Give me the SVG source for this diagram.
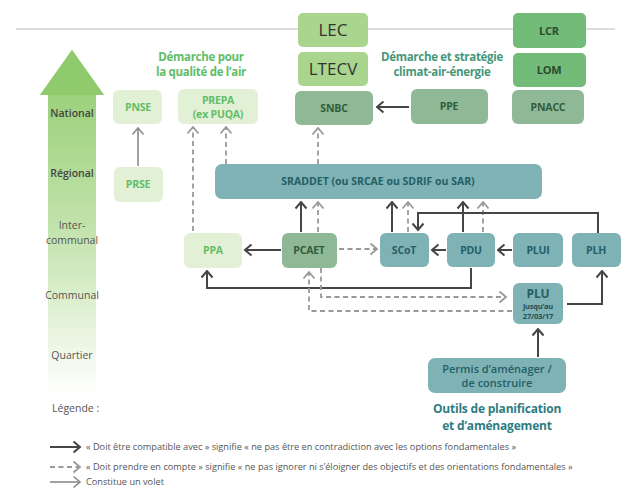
<svg xmlns="http://www.w3.org/2000/svg" width="625" height="489" viewBox="0 0 625 489">
<defs>
<linearGradient id="gArrow" x1="0" y1="0" x2="0" y2="1">
<stop offset="0" stop-color="#8fcb6c"/>
<stop offset="0.55" stop-color="#c6e4b0"/>
<stop offset="1" stop-color="#ffffff"/>
</linearGradient>
<marker id="mSolid" viewBox="0 0 10 14" refX="8.5" refY="7" markerWidth="10" markerHeight="14" markerUnits="userSpaceOnUse" orient="auto">
<path d="M2,1.5 L8.5,7 L2,12.5" fill="none" stroke="#454545" stroke-width="2"/>
</marker>
<marker id="mDash" viewBox="0 0 10 14" refX="8.5" refY="7" markerWidth="10" markerHeight="14" markerUnits="userSpaceOnUse" orient="auto">
<path d="M2,1.5 L8.5,7 L2,12.5" fill="none" stroke="#9a9a9a" stroke-width="1.8"/>
</marker>
<marker id="mGray" viewBox="0 0 10 14" refX="8.5" refY="7" markerWidth="10" markerHeight="14" markerUnits="userSpaceOnUse" orient="auto">
<path d="M2,1.5 L8.5,7 L2,12.5" fill="none" stroke="#8a8a8a" stroke-width="1.6"/>
</marker>
</defs>
<style>
text{font-family:"Open Sans","Noto Sans","Liberation Sans",sans-serif;}
.lvl{font-size:10.5px;fill:#444;text-anchor:middle;font-weight:600;}
.lvl2{font-size:10.5px;fill:#555;text-anchor:middle;}
.lbl{font-size:10.5px;font-weight:700;text-anchor:middle;letter-spacing:-0.2px;}
.lg{fill:#e2f0d6;}
.lgt{fill:#62bd67;}
.law{fill:#a9d58e;}
.lawt{font-size:17px;fill:#333;text-anchor:middle;}
.dg{fill:#72bb78;}
.dgt{fill:#2e4a30;}
.gg{fill:#8fb996;}
.ggt{fill:#2f5d3b;}
.tl{fill:#7fb2b4;}
.tlt{fill:#235f67;}
.head1{font-size:11.5px;font-weight:700;fill:#62bd67;text-anchor:middle;letter-spacing:-0.3px;}
.head2{font-size:11.5px;font-weight:700;fill:#46977a;text-anchor:middle;letter-spacing:-0.3px;}
.head3{font-size:12px;font-weight:700;fill:#2e7d83;text-anchor:middle;letter-spacing:-0.2px;}
.solid{fill:none;stroke:#454545;stroke-width:2;marker-end:url(#mSolid);}
.dash{fill:none;stroke:#9a9a9a;stroke-width:1.8;stroke-dasharray:5,3.5;marker-end:url(#mDash);}
.volet{fill:none;stroke:#8a8a8a;stroke-width:1.6;marker-end:url(#mGray);}
.legt{font-size:9.2px;fill:#555;}
</style>
<rect width="625" height="489" fill="#ffffff"/>
<line x1="16" y1="29" x2="615" y2="29" stroke="#bdbdbd" stroke-width="1"/>

<g id="scale">
<polygon points="72,50 104,95 96,95 96,395 48,395 48,95 40,95" fill="url(#gArrow)"/>
<polygon points="72,50 104,95 40,95" fill="#8fcb6c"/>
<text class="lvl" x="72" y="117">National</text>
<text class="lvl" x="72" y="177">Régional</text>
<text class="lvl2" x="72" y="229">Inter-</text>
<text class="lvl2" x="72" y="244">communal</text>
<text class="lvl2" x="72" y="299">Communal</text>
<text class="lvl2" x="72" y="359">Quartier</text>
<text class="lvl2" x="52" y="412" style="text-anchor:start">Légende :</text>
</g>

<g id="titles">
<text class="head1" x="201" y="61">Démarche pour</text>
<text class="head1" x="201" y="76">la qualité de l’air</text>
<text class="head2" x="442" y="61">Démarche et stratégie</text>
<text class="head2" x="442" y="76">climat-air-énergie</text>
<text class="head3" x="497" y="413">Outils de planification</text>
<text class="head3" x="497" y="430">et d’aménagement</text>
</g>

<g id="connectors">
<line class="volet" x1="138" y1="166" x2="138" y2="128"/>
<polyline class="dash" points="193,231 193,127"/>
<line class="dash" x1="226" y1="164" x2="226" y2="127"/>
<line class="dash" x1="318" y1="164" x2="318" y2="128"/>
<line class="solid" x1="409" y1="107" x2="377" y2="107"/>
<line class="solid" x1="301" y1="232" x2="301" y2="202"/>
<line class="dash" x1="318" y1="232" x2="318" y2="202"/>
<line class="solid" x1="392" y1="232" x2="392" y2="202"/>
<line class="dash" x1="408" y1="232" x2="408" y2="202"/>
<line class="solid" x1="463" y1="232" x2="463" y2="202"/>
<line class="dash" x1="483" y1="232" x2="483" y2="202"/>
<polyline class="solid" points="598,233 598,213 418,213 418,230"/>
<line class="solid" x1="281" y1="250" x2="245" y2="250"/>
<line class="dash" x1="339" y1="249" x2="377" y2="249"/>
<line class="solid" x1="446" y1="250" x2="432" y2="250"/>
<line class="solid" x1="512" y1="250" x2="498" y2="250"/>
<polyline class="solid" points="471,268 471,288 207,288 207,271"/>
<polyline class="dash" points="321,268 321,297 506,297"/>
<polyline class="dash" points="512,311 309,311 309,272"/>
<polyline class="solid" points="567,304 602,304 602,271"/>
<line class="solid" x1="538" y1="357" x2="538" y2="329"/>
</g>

<g id="PNSE"><rect class="lg" x="113" y="90" width="49" height="34" rx="6"/><text class="lbl lgt" x="138" y="111">PNSE</text></g>
<g id="PRSE"><rect class="lg" x="114" y="167" width="49" height="35" rx="6"/><text class="lbl lgt" x="138" y="188">PRSE</text></g>
<g id="PREPA"><rect class="lg" x="178" y="89" width="80" height="35" rx="6"/><text class="lbl lgt" x="218" y="104">PREPA</text><text class="lbl lgt" x="218" y="118">(ex PUQA)</text></g>
<g id="LEC"><rect class="law" x="298" y="13" width="70" height="34" rx="5"/><text class="lawt" x="333" y="36">LEC</text></g>
<g id="LTECV"><rect class="law" x="298" y="52" width="70" height="34" rx="5"/><text class="lawt" x="333" y="75">LTECV</text></g>
<g id="SNBC"><rect class="gg" x="295" y="91" width="78" height="34" rx="6"/><text class="lbl ggt" x="334" y="112">SNBC</text></g>
<g id="PPE"><rect class="gg" x="411" y="89" width="77" height="35" rx="6"/><text class="lbl ggt" x="449" y="110">PPE</text></g>
<g id="LCR"><rect class="dg" x="513" y="13" width="73" height="35" rx="5"/><text class="lbl dgt" x="549" y="35" style="font-size:11px">LCR</text></g>
<g id="LOM"><rect class="dg" x="513" y="53" width="73" height="34" rx="5"/><text class="lbl dgt" x="549" y="74" style="font-size:11px">LOM</text></g>
<g id="PNACC"><rect class="gg" x="512" y="90" width="72" height="34" rx="6"/><text class="lbl ggt" x="548" y="111">PNACC</text></g>
<g id="SRADDET"><rect class="tl" x="215" y="164" width="327" height="35" rx="7"/><text class="lbl tlt" x="378" y="185" style="letter-spacing:0">SRADDET (ou SRCAE ou SDRIF ou SAR)</text></g>
<g id="PPA"><rect class="lg" x="184" y="233" width="58" height="35" rx="6"/><text class="lbl lgt" x="213" y="254">PPA</text></g>
<g id="PCAET"><rect class="gg" x="282" y="233" width="55" height="35" rx="6"/><text class="lbl ggt" x="309" y="254">PCAET</text></g>
<g id="SCoT"><rect class="tl" x="380" y="233" width="49" height="34" rx="6"/><text class="lbl tlt" x="404" y="254">SCoT</text></g>
<g id="PDU"><rect class="tl" x="447" y="233" width="48" height="34" rx="6"/><text class="lbl tlt" x="471" y="254">PDU</text></g>
<g id="PLUI"><rect class="tl" x="513" y="233" width="50" height="34" rx="6"/><text class="lbl tlt" x="538" y="254">PLUI</text></g>
<g id="PLH"><rect class="tl" x="572" y="233" width="49" height="34" rx="6"/><text class="lbl tlt" x="596" y="254">PLH</text></g>
<g id="PLU"><rect class="tl" x="513" y="283" width="50" height="41" rx="6"/><text class="lbl tlt" x="538" y="298" style="font-size:12px">PLU</text><text class="lbl" x="538" y="309" style="font-size:7.5px;fill:#1f4f55">jusqu’au</text><text class="lbl" x="538" y="319" style="font-size:7.5px;fill:#1f4f55">27/03/17</text></g>
<g id="Permis"><rect class="tl" x="428" y="358" width="138" height="35" rx="7"/><text class="lbl tlt" x="497" y="373" style="font-weight:600;font-size:11px;letter-spacing:0">Permis d’aménager /</text><text class="lbl tlt" x="497" y="387" style="font-weight:600;font-size:11px;letter-spacing:0">de construire</text></g>

<g id="legend">
<line class="solid" x1="50" y1="447" x2="80" y2="447"/>
<text class="legt" x="86" y="450">« Doit être compatible avec » signifie « ne pas être en contradiction avec les options fondamentales »</text>
<line class="dash" x1="50" y1="467" x2="80" y2="467"/>
<text class="legt" x="86" y="470">« Doit prendre en compte » signifie « ne pas ignorer ni s’éloigner des objectifs et des orientations fondamentales »</text>
<line class="volet" x1="50" y1="482" x2="80" y2="482"/>
<text class="legt" x="86" y="485">Constitue un volet</text>
</g>
</svg>
